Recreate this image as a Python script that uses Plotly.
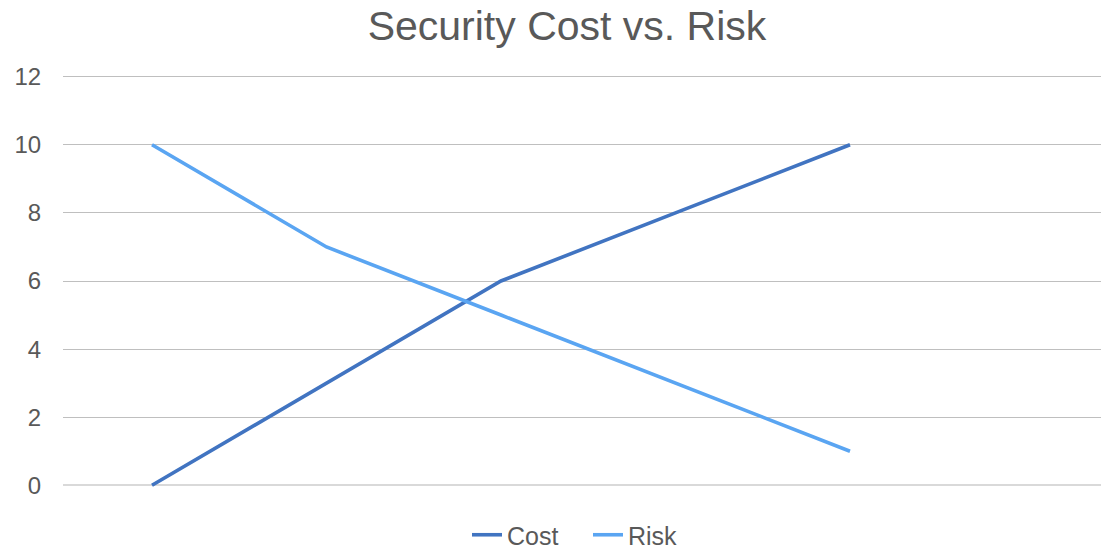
import plotly.graph_objects as go

categories = [1, 2, 3, 4, 5]
cost = [0, 3, 6, 8, 10]
risk = [10, 7, 5, 3, 1]
y_ticks = [0, 2, 4, 6, 8, 10, 12]

W, H = 1101, 550
L, R = 63, 0
px_per_cat = 174.5
first_px = 152
x0 = 1 - (first_px - L) / px_per_cat
x1 = 1 + (W - R - first_px) / px_per_cat

pad = 0.05
ppu = 34.0
T = int(round(77 - pad * ppu))
B = int(round(H - (485 + pad * ppu)))

fig = go.Figure()
fig.add_trace(go.Scatter(x=categories, y=cost, mode="lines", name="Cost",
                         line=dict(color="#4174C1", width=3.6)))
fig.add_trace(go.Scatter(x=categories, y=risk, mode="lines", name="Risk",
                         line=dict(color="#5AA5F2", width=3.6)))

fig.update_layout(
    width=W, height=H,
    margin=dict(l=L, r=R, t=T, b=B, autoexpand=False),
    paper_bgcolor="white", plot_bgcolor="white",
    font=dict(family="Liberation Sans, Arial, sans-serif", color="#595959"),
    title=dict(text="Security Cost vs. Risk", font=dict(size=41, color="#595959"),
               x=567 / W, xanchor="center", xref="container", y=1 - 26 / H, yanchor="middle", yref="container"),
    legend=dict(orientation="h", x=588 / W, xanchor="center", xref="container", y=1 - 535 / H,
                yref="container", yanchor="middle", font=dict(size=25, color="#595959"),
                bgcolor="rgba(0,0,0,0)", tracegroupgap=0, entrywidth=76, entrywidthmode="pixels"),
    showlegend=True,
)
fig.update_xaxes(range=[x0, x1], showgrid=False, zeroline=False, showline=False,
                 showticklabels=False, ticks="")
fig.update_yaxes(range=[-pad, 12 + pad], tickvals=y_ticks, showgrid=True, gridcolor="#BFBFBF", gridwidth=1.3,
                 zeroline=True, zerolinecolor="#D9D9D9", zerolinewidth=1.5, showline=False,
                 tickfont=dict(size=24, color="#595959"), ticks="outside", ticklen=16,
                 tickcolor="rgba(0,0,0,0)")

fig.write_html("out.html")
